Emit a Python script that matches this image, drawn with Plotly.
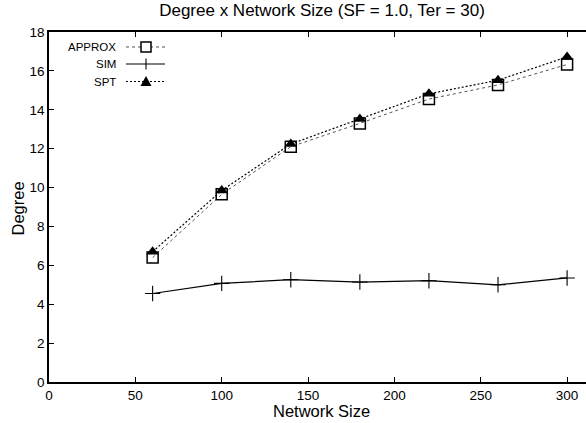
import plotly.graph_objects as go

network_size = [60, 100, 140, 180, 220, 260, 300]
approx = [6.4, 9.65, 12.1, 13.3, 14.55, 15.28, 16.33]
sim = [4.55, 5.07, 5.26, 5.14, 5.21, 5.0, 5.35]
spt = [6.7, 9.85, 12.24, 13.52, 14.82, 15.52, 16.72]

x_ticks = [0, 50, 100, 150, 200, 250, 300]
y_ticks = [0, 2, 4, 6, 8, 10, 12, 14, 16, 18]

FONT = "Liberation Sans, Arial, sans-serif"

fig = go.Figure()
fig.add_trace(go.Scatter(x=network_size, y=approx, mode="lines+markers", name="APPROX",
                         line=dict(color="#555555", width=1, dash="dot"),
                         marker=dict(symbol="square-open", size=11, color="black", line=dict(width=1.5, color="black"))))
fig.add_trace(go.Scatter(x=network_size, y=sim, mode="lines+markers", name="SIM",
                         line=dict(color="black", width=1.2),
                         marker=dict(symbol="cross-thin", size=11, line=dict(width=1.1, color="black"))))
fig.add_trace(go.Scatter(x=network_size, y=spt, mode="lines+markers", name="SPT",
                         line=dict(color="black", width=1.2, dash="2px,2px"),
                         marker=dict(symbol="triangle-up", size=11, color="black")))

# manual gnuplot-style legend (text on left, sample on right), in pixel-derived paper coords
L, T, W, H = 49, 32, 537, 350
def px(x):
    return (x - L) / W
def py(y):
    return (T + H - y) / H

shapes = []
annotations = []
legend_rows = [("APPROX", 47, dict(color="#555555", width=1, dash="dot")),
               ("SIM", 64, dict(color="black", width=1.2, dash="solid")),
               ("SPT", 81.5, dict(color="black", width=1.2, dash="2px,2px"))]
for name, yy, ln in legend_rows:
    annotations.append(dict(x=px(118), y=py(yy), xref="paper", yref="paper", text=name, showarrow=False,
                            xanchor="right", yanchor="middle", font=dict(size=11.5, family=FONT, color="black")))
    shapes.append(dict(type="line", xref="paper", yref="paper", x0=px(126), x1=px(165), y0=py(yy), y1=py(yy), line=ln))

cx = 146
shapes.append(dict(type="rect", xref="paper", yref="paper", x0=px(cx - 5), x1=px(cx + 5), y0=py(47 + 5), y1=py(47 - 5),
                   line=dict(color="black", width=1.5), fillcolor="white"))
shapes.append(dict(type="line", xref="paper", yref="paper", x0=px(cx), x1=px(cx), y0=py(64 - 5.5), y1=py(64 + 5.5),
                   line=dict(color="black", width=1.1)))
shapes.append(dict(type="path", xref="paper", yref="paper",
                   path=f"M {px(cx-5.5)} {py(81.5+4.5)} L {px(cx+5.5)} {py(81.5+4.5)} L {px(cx)} {py(81.5-5.5)} Z",
                   fillcolor="black", line=dict(color="black", width=0)))

# axis titles
annotations.append(dict(x=px(321), y=py(410.5), xref="paper", yref="paper", text="Network Size",
                        showarrow=False, xanchor="center", yanchor="middle",
                        font=dict(size=16.5, family=FONT, color="black")))
annotations.append(dict(x=px(17.5), y=py(209), xref="paper", yref="paper", text="Degree", textangle=-90,
                        showarrow=False, xanchor="center", yanchor="middle",
                        font=dict(size=16.5, family=FONT, color="black")))

fig.update_layout(
    width=586, height=423,
    margin=dict(l=L, r=586 - L - W, t=T, b=423 - T - H, autoexpand=False),
    paper_bgcolor="white", plot_bgcolor="white",
    showlegend=False,
    font=dict(family=FONT, size=13.5, color="black"),
    title=dict(text="Degree x Network Size (SF = 1.0, Ter = 30)", x=322 / 586, xref="container",
               xanchor="center", y=1 - 10 / 423, yref="container", yanchor="middle",
               font=dict(size=17, family=FONT, color="black")),
    shapes=shapes, annotations=annotations,
)
fig.update_xaxes(range=[0, (586 - L) / 1.727], tickvals=x_ticks, ticks="inside", ticklen=5, tickwidth=1,
                 tickcolor="black", showline=True, linecolor="black", linewidth=1.5, mirror="ticks",
                 showgrid=False, zeroline=False, automargin=False,
                 tickfont=dict(size=13.5, family=FONT))
fig.update_yaxes(range=[0, 18], tickvals=y_ticks, ticks="inside", ticklen=5, tickwidth=1,
                 tickcolor="black", showline=True, linecolor="black", linewidth=1.5,
                 showgrid=False, zeroline=False, automargin=False,
                 tickfont=dict(size=13.5, family=FONT))

fig.write_html("out.html", config={"displayModeBar": False})

# remove the browser's default body margin so the figure sits at the page origin
with open("out.html", "r", encoding="utf-8") as f:
    html = f.read()
html = html.replace("<head>", "<head><style>html,body{margin:0;padding:0;overflow:hidden;}</style>", 1)
with open("out.html", "w", encoding="utf-8") as f:
    f.write(html)
